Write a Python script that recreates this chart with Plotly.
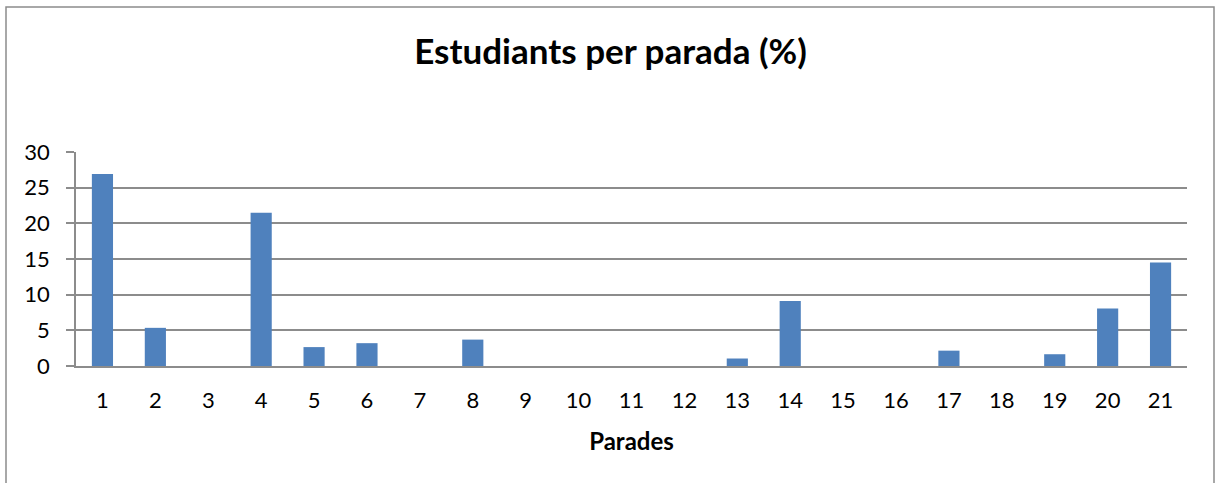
import plotly.graph_objects as go

categories = [str(i) for i in range(1, 22)]
values = [26.9, 5.35, 0, 21.5, 2.65, 3.2, 0, 3.7, 0, 0, 0, 0, 1.05, 9.1, 0, 0, 2.15, 0, 1.65, 8.05, 14.5]
y_ticks = [0, 5, 10, 15, 20, 25, 30]

title_text = "<b>Estudiants per parada (%)</b>"
x_title = "<b>Parades</b>"

W, H = 1216, 483
L, R, T, B = 76, 1187, 152, 366
pw, ph = R - L, B - T

def px(x):
    return (x - L) / pw

def py(y):
    return (B - y) / ph

fig = go.Figure(go.Bar(x=categories, y=values, marker=dict(color="#4f81bd", line=dict(width=0))))

grid = "#8c8c8c"
fig.update_layout(
    width=W, height=H,
    margin=dict(l=L, r=W - R, t=T, b=H - B, pad=0),
    paper_bgcolor="white", plot_bgcolor="white",
    bargap=0.6,
    showlegend=False,
    font=dict(family="Lato, Carlito, Calibri, sans-serif", color="black", size=22),
    title=dict(text=title_text, x=610.5 / W, xref="container", xanchor="center",
               y=1 - 52 / H, yref="container", yanchor="middle",
               font=dict(size=35, color="black")),
    xaxis=dict(type="category", showgrid=False, showline=True, linecolor=grid, linewidth=1.5,
               ticks="", ticklabelstandoff=14, tickfont=dict(size=22),
               title=dict(text=x_title, font=dict(size=24), standoff=21)),
    yaxis=dict(range=[0, 30], tickvals=y_ticks, showgrid=True, gridcolor=grid, gridwidth=1.5,
               showline=True, linecolor=grid, linewidth=1.5, zeroline=False,
               ticks="outside", ticklen=8, tickcolor=grid, tickwidth=1.5,
               ticklabelstandoff=12, tickfont=dict(size=22)),
    shapes=[dict(type="rect", xref="paper", yref="paper",
                 x0=px(6), x1=px(1214), y0=py(495), y1=py(7),
                 line=dict(color="#8c8c8c", width=1.5), fillcolor="rgba(0,0,0,0)", layer="below")],
)

fig.write_html("out.html", config={"displayModeBar": False},
               post_script="document.body.style.margin='0';")
